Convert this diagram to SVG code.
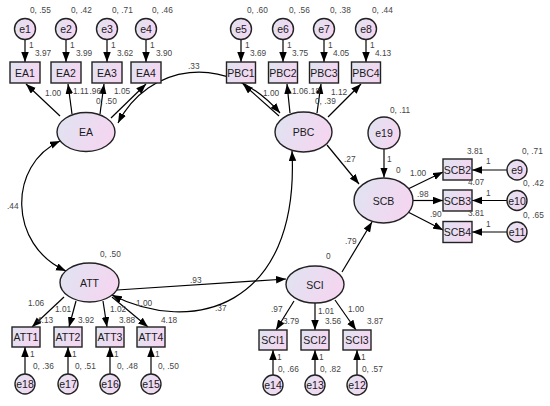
<svg xmlns="http://www.w3.org/2000/svg" width="550" height="406" viewBox="0 0 550 406">
<defs>
<linearGradient id="g" x1="0" y1="0" x2="1" y2="0.3">
<stop offset="0" stop-color="#dfe4f1"/>
<stop offset="1" stop-color="#f4d6f1"/>
</linearGradient>
<marker id="ah" markerUnits="userSpaceOnUse" markerWidth="11" markerHeight="8" refX="10" refY="3.75" orient="auto-start-reverse">
<path d="M0,0 L10,3.75 L0,7.5 z" fill="#000"/>
</marker>
<style>
.n rect,.n ellipse,.n circle{fill:url(#g);stroke:#222;stroke-width:1.4}
.n text{font-family:"Liberation Sans",Arial,sans-serif;font-size:10.5px;fill:#1a1a1a;text-anchor:middle}
.c line,.c path{stroke:#000;stroke-width:1.2;fill:none;marker-end:url(#ah)}
.c .d{marker-start:url(#ah)}
.l text{font-family:"Liberation Sans",Arial,sans-serif;font-size:8.3px;fill:#444}
</style>
</defs>
<rect width="550" height="406" fill="#fff"/>

<g class="c" id="connectors">
<line x1="25" y1="39.5" x2="25" y2="62"/>
<line x1="66" y1="39.5" x2="66" y2="62"/>
<line x1="107" y1="39.5" x2="107" y2="62"/>
<line x1="146" y1="39.5" x2="146" y2="62"/>
<line x1="241" y1="39.5" x2="241" y2="62"/>
<line x1="283" y1="39.5" x2="283" y2="62"/>
<line x1="324" y1="39.5" x2="324" y2="62"/>
<line x1="366" y1="39.5" x2="366" y2="62"/>
<line x1="60" y1="116" x2="26" y2="84"/>
<line x1="72" y1="114" x2="68" y2="84"/>
<line x1="100" y1="114" x2="104" y2="84"/>
<line x1="111" y1="118" x2="146" y2="84"/>
<line x1="279" y1="116" x2="243" y2="84"/>
<line x1="290" y1="113" x2="287" y2="84"/>
<line x1="317" y1="113" x2="321" y2="84"/>
<line x1="328" y1="117" x2="361" y2="84"/>
<path class="d" d="M118,123 C148,65 225,50 280,113"/>
<path class="d" d="M60,141 C8,165 8,245 66,271"/>
<path class="d" d="M112,295 C190,335 300,310 292,151"/>
<line x1="117" y1="290" x2="286" y2="279"/>
<line x1="327" y1="145" x2="359" y2="184"/>
<line x1="342" y1="272" x2="372" y2="222"/>
<line x1="384" y1="149" x2="384" y2="177.5"/>
<line x1="408" y1="189" x2="443" y2="172"/>
<line x1="413" y1="200.5" x2="443" y2="200.5"/>
<line x1="408" y1="212" x2="443" y2="230"/>
<line x1="507" y1="170" x2="472" y2="170"/>
<line x1="507" y1="200.5" x2="472" y2="200.5"/>
<line x1="507" y1="232" x2="472" y2="232"/>
<line x1="64" y1="297" x2="32" y2="327"/>
<line x1="76" y1="301" x2="69" y2="327"/>
<line x1="103" y1="301" x2="107" y2="327"/>
<line x1="112" y1="297" x2="148" y2="327"/>
<line x1="25" y1="374" x2="25" y2="347"/>
<line x1="68" y1="374" x2="68" y2="347"/>
<line x1="110" y1="374" x2="110" y2="347"/>
<line x1="151" y1="374" x2="151" y2="347"/>
<line x1="294" y1="301" x2="276" y2="330"/>
<line x1="315" y1="303" x2="315" y2="330"/>
<line x1="335" y1="300" x2="356" y2="330"/>
<line x1="273" y1="375" x2="273" y2="350"/>
<line x1="315" y1="375" x2="315" y2="350"/>
<line x1="357" y1="375" x2="357" y2="350"/>
</g>

<g class="n" id="EA"><ellipse cx="86" cy="132" rx="29" ry="19.5"/><text x="86" y="136">EA</text></g>
<g class="n" id="PBC"><ellipse cx="303.5" cy="132" rx="28.5" ry="20"/><text x="303.5" y="136">PBC</text></g>
<g class="n" id="SCB"><ellipse cx="383.5" cy="200.5" rx="29.5" ry="22.5"/><text x="383.5" y="204.5">SCB</text></g>
<g class="n" id="ATT"><ellipse cx="89.5" cy="282.5" rx="29.5" ry="19.5"/><text x="89.5" y="286.5">ATT</text></g>
<g class="n" id="SCI"><ellipse cx="315" cy="284.5" rx="29" ry="18.5"/><text x="315" y="288.5">SCI</text></g>

<g class="n" id="EA1"><rect x="10" y="62" width="30" height="21"/><text x="25" y="76.5">EA1</text></g>
<g class="n" id="EA2"><rect x="51" y="62" width="30" height="21"/><text x="66" y="76.5">EA2</text></g>
<g class="n" id="EA3"><rect x="92" y="62" width="30" height="21"/><text x="107" y="76.5">EA3</text></g>
<g class="n" id="EA4"><rect x="131" y="62" width="30" height="21"/><text x="146" y="76.5">EA4</text></g>
<g class="n" id="PBC1"><rect x="226.5" y="62" width="29" height="21"/><text x="241" y="76.5">PBC1</text></g>
<g class="n" id="PBC2"><rect x="268.5" y="62" width="29" height="21"/><text x="283" y="76.5">PBC2</text></g>
<g class="n" id="PBC3"><rect x="309.5" y="62" width="29" height="21"/><text x="324" y="76.5">PBC3</text></g>
<g class="n" id="PBC4"><rect x="351.5" y="62" width="29" height="21"/><text x="366" y="76.5">PBC4</text></g>
<g class="n" id="SCB2"><rect x="443" y="159" width="29" height="21"/><text x="457.5" y="173.5">SCB2</text></g>
<g class="n" id="SCB3"><rect x="443" y="190" width="29" height="21"/><text x="457.5" y="204.5">SCB3</text></g>
<g class="n" id="SCB4"><rect x="443" y="221.5" width="29" height="21"/><text x="457.5" y="236">SCB4</text></g>
<g class="n" id="ATT1"><rect x="12" y="327" width="28" height="20"/><text x="26" y="341">ATT1</text></g>
<g class="n" id="ATT2"><rect x="54" y="327" width="28" height="20"/><text x="68" y="341">ATT2</text></g>
<g class="n" id="ATT3"><rect x="96" y="327" width="28" height="20"/><text x="110" y="341">ATT3</text></g>
<g class="n" id="ATT4"><rect x="137" y="327" width="28" height="20"/><text x="151" y="341">ATT4</text></g>
<g class="n" id="SCI1"><rect x="259" y="330" width="28" height="20"/><text x="273" y="344">SCI1</text></g>
<g class="n" id="SCI2"><rect x="301" y="330" width="28" height="20"/><text x="315" y="344">SCI2</text></g>
<g class="n" id="SCI3"><rect x="343" y="330" width="28" height="20"/><text x="357" y="344">SCI3</text></g>

<g class="n" id="e1"><circle cx="25" cy="29" r="10.5"/><text x="25" y="33">e1</text></g>
<g class="n" id="e2"><circle cx="66" cy="29" r="10.5"/><text x="66" y="33">e2</text></g>
<g class="n" id="e3"><circle cx="107" cy="29" r="10.5"/><text x="107" y="33">e3</text></g>
<g class="n" id="e4"><circle cx="146" cy="29" r="10.5"/><text x="146" y="33">e4</text></g>
<g class="n" id="e5"><circle cx="241" cy="29" r="10.5"/><text x="241" y="33">e5</text></g>
<g class="n" id="e6"><circle cx="283" cy="29" r="10.5"/><text x="283" y="33">e6</text></g>
<g class="n" id="e7"><circle cx="324" cy="29" r="10.5"/><text x="324" y="33">e7</text></g>
<g class="n" id="e8"><circle cx="366" cy="29" r="10.5"/><text x="366" y="33">e8</text></g>
<g class="n" id="e19"><circle cx="384" cy="133" r="16"/><text x="384" y="137">e19</text></g>
<g class="n" id="e9"><circle cx="517" cy="170" r="10"/><text x="517" y="174">e9</text></g>
<g class="n" id="e10"><circle cx="517" cy="200.5" r="10"/><text x="517" y="204.5">e10</text></g>
<g class="n" id="e11"><circle cx="517" cy="232" r="10"/><text x="517" y="236">e11</text></g>
<g class="n" id="e18"><circle cx="25" cy="384" r="10"/><text x="25" y="388">e18</text></g>
<g class="n" id="e17"><circle cx="68" cy="384" r="10"/><text x="68" y="388">e17</text></g>
<g class="n" id="e16"><circle cx="110" cy="384" r="10"/><text x="110" y="388">e16</text></g>
<g class="n" id="e15"><circle cx="151" cy="384" r="10"/><text x="151" y="388">e15</text></g>
<g class="n" id="e14"><circle cx="273" cy="385" r="10"/><text x="273" y="389">e14</text></g>
<g class="n" id="e13"><circle cx="315" cy="385" r="10"/><text x="315" y="389">e13</text></g>
<g class="n" id="e12"><circle cx="357" cy="385" r="10"/><text x="357" y="389">e12</text></g>

<g class="l" id="labels">
<text x="30" y="13">0, .55</text><text x="71" y="13">0, .42</text><text x="112" y="13">0, .71</text><text x="152" y="13">0, .46</text>
<text x="247" y="13">0, .60</text><text x="289" y="13">0, .56</text><text x="330" y="13">0, .38</text><text x="372" y="13">0, .44</text>
<text x="29" y="48">1</text><text x="70" y="48">1</text><text x="111" y="48">1</text><text x="150" y="48">1</text>
<text x="245" y="48">1</text><text x="287" y="48">1</text><text x="328" y="48">1</text><text x="370" y="48">1</text>
<text x="35" y="56">3.97</text><text x="76" y="56">3.99</text><text x="117" y="56">3.62</text><text x="156" y="56">3.90</text>
<text x="250" y="56">3.69</text><text x="292" y="56">3.75</text><text x="333" y="56">4.05</text><text x="375" y="56">4.13</text>
<text x="45" y="96">1.00</text><text x="73" y="94">1.11</text><text x="89.5" y="94">.96</text><text x="114" y="94">1.05</text><text x="96" y="103.5">0, .50</text>
<text x="263" y="96">1.00</text><text x="292" y="94">1.06</text><text x="308.5" y="94">.18</text><text x="331" y="95">1.12</text><text x="315" y="103.5">0, .39</text>
<text x="188" y="69">.33</text>
<text x="7" y="209">.44</text>
<text x="390" y="113">0, .11</text>
<text x="387" y="162">1</text>
<text x="396" y="173">0</text>
<text x="344" y="162">.27</text>
<text x="345" y="244">.79</text>
<text x="410" y="176">1.00</text>
<text x="417" y="197">.98</text>
<text x="430" y="217">.90</text>
<text x="467" y="154">3.81</text><text x="522" y="154">0, .71</text><text x="486" y="164">1</text>
<text x="468" y="185">4.07</text><text x="523" y="186">0, .42</text><text x="486" y="196">1</text>
<text x="468" y="216">3.81</text><text x="523" y="218">0, .65</text><text x="486" y="227">1</text>
<text x="100" y="257">0, .50</text>
<text x="28" y="306">1.06</text><text x="55" y="312">1.01</text><text x="110" y="312">1.02</text><text x="136" y="306">1.00</text>
<text x="37" y="323">4.13</text><text x="78" y="323">3.92</text><text x="119" y="323">3.88</text><text x="161" y="323">4.18</text>
<text x="30" y="357">1</text><text x="72" y="357">1</text><text x="114" y="357">1</text><text x="155" y="357">1</text>
<text x="33" y="369">0, .36</text><text x="75" y="369">0, .51</text><text x="117" y="369">0, .48</text><text x="158" y="369">0, .50</text>
<text x="190" y="283">.93</text>
<text x="215" y="311">.37</text>
<text x="326" y="259">0</text>
<text x="271" y="312">.97</text><text x="318" y="314">1.01</text><text x="348" y="312">1.00</text>
<text x="283" y="324">3.79</text><text x="325" y="324">3.56</text><text x="367" y="324">3.87</text>
<text x="277" y="360">1</text><text x="319" y="360">1</text><text x="361" y="360">1</text>
<text x="278" y="372">0, .66</text><text x="320" y="372">0, .82</text><text x="362" y="372">0, .57</text>
</g>
</svg>
